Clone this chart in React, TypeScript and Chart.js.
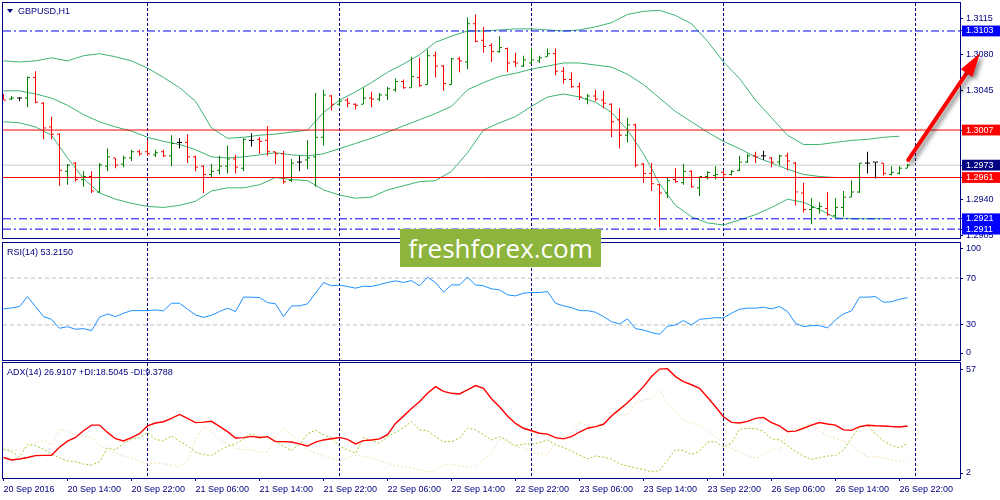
import React, { useEffect, useRef } from "react";
import { Chart, registerables } from "chart.js";

Chart.register(...registerables);

// ---------------- data ----------------
const timeLabels = [
  "20 Sep 2016", "20 Sep 14:00", "20 Sep 22:00", "21 Sep 06:00", "21 Sep 14:00",
  "21 Sep 22:00", "22 Sep 06:00", "22 Sep 14:00", "22 Sep 22:00", "23 Sep 06:00",
  "23 Sep 14:00", "23 Sep 22:00", "26 Sep 06:00", "26 Sep 14:00", "26 Sep 22:00",
];

const openPrices = [
  1.3041, 1.3037, 1.3038, 1.3038, 1.3058, 1.3033, 1.3010, 1.3003, 1.2967, 1.2975,
  1.2959, 1.2962, 1.2947, 1.2972, 1.2980, 1.2974, 1.2980, 1.2986, 1.2986, 1.2983,
  1.2986, 1.2982, 1.2995, 1.2995, 1.2981, 1.2972, 1.2964, 1.2968, 1.2972, 1.2979,
  1.2970, 1.2997, 1.2998, 1.2997, 1.2986, 1.2984, 1.2958, 1.2976, 1.2978, 1.2981,
  1.3000, 1.3040, 1.3032, 1.3036, 1.3032, 1.3032, 1.3038, 1.3037, 1.3041, 1.3046,
  1.3054, 1.3048, 1.3058, 1.3051, 1.3079, 1.3069, 1.3051, 1.3076, 1.3073, 1.3110,
  1.3094, 1.3089, 1.3083, 1.3086, 1.3073, 1.3069, 1.3072, 1.3074, 1.3078, 1.3081,
  1.3064, 1.3056, 1.3049, 1.3037, 1.3040, 1.3036, 1.3032, 1.3017, 1.3002, 1.3012,
  1.2974, 1.2965, 1.2954, 1.2946, 1.2959, 1.2956, 1.2967, 1.2951, 1.2962, 1.2963,
  1.2966, 1.2964, 1.2968, 1.2976, 1.2982, 1.2982, 1.2980, 1.2976, 1.2982, 1.2975,
  1.2946, 1.2930, 1.2931, 1.2931, 1.2924, 1.2932, 1.2942, 1.2947, 1.2975, 1.2976,
  1.2975, 1.2964, 1.2965, 1.2970,
];
const highPrices = [
  1.3042, 1.3040, 1.3039, 1.3059, 1.3064, 1.3034, 1.3020, 1.3004, 1.2974, 1.2976,
  1.2967, 1.2967, 1.2975, 1.2989, 1.2980, 1.2982, 1.2988, 1.2988, 1.2997, 1.2988,
  1.2988, 1.3002, 1.2999, 1.3003, 1.2982, 1.2973, 1.2974, 1.2982, 1.2992, 1.2983,
  1.2999, 1.3004, 1.3000, 1.3011, 1.2986, 1.2987, 1.2979, 1.2982, 1.2997, 1.3043,
  1.3046, 1.3041, 1.3037, 1.3038, 1.3033, 1.3048, 1.3044, 1.3043, 1.3049, 1.3057,
  1.3056, 1.3078, 1.3077, 1.3085, 1.3083, 1.3070, 1.3077, 1.3078, 1.3116, 1.3119,
  1.3107, 1.3091, 1.3098, 1.3087, 1.3082, 1.3079, 1.3087, 1.3079, 1.3086, 1.3086,
  1.3068, 1.3063, 1.3053, 1.3042, 1.3046, 1.3045, 1.3033, 1.3028, 1.3019, 1.3013,
  1.2975, 1.2975, 1.2955, 1.2961, 1.2970, 1.2974, 1.2968, 1.2962, 1.2967, 1.2972,
  1.2968, 1.2968, 1.2982, 1.2984, 1.2986, 1.2987, 1.2981, 1.2983, 1.2985, 1.2976,
  1.2956, 1.2941, 1.2937, 1.2947, 1.2941, 1.2948, 1.2958, 1.2975, 1.2986, 1.2976,
  1.2975, 1.2972, 1.2972, 1.2974,
];
const lowPrices = [
  1.3036, 1.3036, 1.3035, 1.3029, 1.3033, 1.2998, 1.2998, 1.2953, 1.2954, 1.2957,
  1.2952, 1.2946, 1.2946, 1.2967, 1.2970, 1.2971, 1.2977, 1.2982, 1.2982, 1.2981,
  1.2981, 1.2972, 1.2989, 1.2975, 1.2967, 1.2946, 1.2961, 1.2964, 1.2965, 1.2965,
  1.2967, 1.2991, 1.2984, 1.2982, 1.2974, 1.2955, 1.2957, 1.2967, 1.2969, 1.2952,
  1.2992, 1.3026, 1.3030, 1.3029, 1.3027, 1.3032, 1.3029, 1.3035, 1.3036, 1.3044,
  1.3047, 1.3048, 1.3049, 1.3051, 1.3058, 1.3045, 1.3051, 1.3063, 1.3066, 1.3092,
  1.3082, 1.3073, 1.3082, 1.3063, 1.3068, 1.3068, 1.3071, 1.3072, 1.3078, 1.3060,
  1.3052, 1.3048, 1.3036, 1.3032, 1.3035, 1.3028, 1.3000, 1.2989, 1.2995, 1.2971,
  1.2956, 1.2948, 1.2913, 1.2941, 1.2956, 1.2954, 1.2951, 1.2943, 1.2959, 1.2959,
  1.2961, 1.2963, 1.2967, 1.2975, 1.2975, 1.2978, 1.2971, 1.2973, 1.2968, 1.2934,
  1.2927, 1.2916, 1.2926, 1.2924, 1.2922, 1.2923, 1.2942, 1.2946, 1.2965, 1.2960,
  1.2963, 1.2963, 1.2964, 1.2970,
];
const closePrices = [
  1.3036, 1.3038, 1.3038, 1.3058, 1.3034, 1.3009, 1.3003, 1.2968, 1.2973, 1.2959,
  1.2962, 1.2948, 1.2973, 1.2981, 1.2973, 1.2980, 1.2986, 1.2984, 1.2984, 1.2985,
  1.2982, 1.2994, 1.2995, 1.2981, 1.2971, 1.2964, 1.2967, 1.2972, 1.2979, 1.2971,
  1.2998, 1.2997, 1.2996, 1.2986, 1.2984, 1.2957, 1.2975, 1.2976, 1.2980, 1.3000,
  1.3041, 1.3032, 1.3035, 1.3033, 1.3031, 1.3038, 1.3037, 1.3041, 1.3047, 1.3054,
  1.3048, 1.3059, 1.3050, 1.3079, 1.3069, 1.3052, 1.3076, 1.3074, 1.3110, 1.3093,
  1.3088, 1.3083, 1.3087, 1.3072, 1.3072, 1.3075, 1.3075, 1.3077, 1.3081, 1.3064,
  1.3056, 1.3049, 1.3039, 1.3040, 1.3037, 1.3033, 1.3015, 1.3002, 1.3012, 1.2973,
  1.2965, 1.2955, 1.2946, 1.2958, 1.2957, 1.2967, 1.2952, 1.2962, 1.2966, 1.2964,
  1.2964, 1.2967, 1.2976, 1.2982, 1.2981, 1.2982, 1.2976, 1.2982, 1.2977, 1.2947,
  1.2930, 1.2932, 1.2933, 1.2925, 1.2932, 1.2942, 1.2947, 1.2975, 1.2975, 1.2976,
  1.2965, 1.2966, 1.2970, 1.2973,
];

// Bollinger bands, read every second bar
const bbUpper = [
  1.3074, 1.3073, 1.3074, 1.3077, 1.3074, 1.3079, 1.3081, 1.3078, 1.3074, 1.3067,
  1.3058, 1.3048, 1.3035, 1.3009, 1.2999, 1.3000, 1.3002, 1.3003, 1.3005, 1.3007,
  1.3024, 1.3036, 1.3044, 1.3053, 1.3063, 1.3071, 1.3080, 1.3092, 1.3098, 1.3103,
  1.3103, 1.3104, 1.3105, 1.3105, 1.3104, 1.3103, 1.3104, 1.3107, 1.3111, 1.3119,
  1.3122, 1.3123, 1.3118, 1.3110, 1.3093, 1.3073, 1.3057, 1.3036, 1.3019, 1.3002,
  1.2993, 1.2993, 1.2995, 1.2997, 1.2998, 1.3000, 1.3001,
];
const bbMiddle = [
  1.3045, 1.3045, 1.3042, 1.3038, 1.3031, 1.3022, 1.3015, 1.3010, 1.3006, 1.3000,
  1.2996, 1.2993, 1.2988, 1.2981, 1.2980, 1.2981, 1.2983, 1.2985, 1.2983, 1.2982,
  1.2984, 1.2989, 1.2994, 1.2999, 1.3005, 1.3011, 1.3017, 1.3023, 1.3030, 1.3046,
  1.3053, 1.3059, 1.3062, 1.3066, 1.3069, 1.3072, 1.3072, 1.3070, 1.3068, 1.3061,
  1.3051, 1.3038, 1.3025, 1.3015, 1.3005, 1.2996, 1.2989, 1.2981, 1.2975, 1.2969,
  1.2964, 1.2962, 1.2961, 1.2961, 1.2961, 1.2961, 1.2961,
];
const bbLower = [
  1.3015, 1.3014, 1.3010, 1.3002, 1.2980, 1.2960, 1.2946, 1.2940, 1.2936, 1.2933,
  1.2932, 1.2934, 1.2938, 1.2948, 1.2951, 1.2951, 1.2954, 1.2961, 1.2959, 1.2958,
  1.2949, 1.2944, 1.2941, 1.2942, 1.2949, 1.2953, 1.2957, 1.2958, 1.2967, 1.2985,
  1.3007, 1.3014, 1.3020, 1.3030, 1.3039, 1.3042, 1.3039, 1.3034, 1.3024, 1.3007,
  1.2984, 1.2955, 1.2934, 1.2923, 1.2917, 1.2915, 1.2920, 1.2925, 1.2932, 1.2940,
  1.2937, 1.2930, 1.2922, 1.2921, 1.2921, 1.2921, null,
];

const rsiValues = [
  43.7, 44.5, 45.7, 54.2, 45.7, 37.1, 34.8, 27.1, 28.5, 26.3,
  26.8, 25.1, 36.5, 39.4, 37.1, 40.0, 42.2, 42.2, 42.2, 42.8,
  42.0, 48.5, 48.5, 43.4, 38.5, 36.5, 38.3, 41.4, 44.3, 41.4,
  53.7, 53.7, 53.4, 49.1, 48.0, 37.1, 46.3, 46.3, 48.0, 57.1,
  66.2, 63.4, 64.0, 62.8, 61.4, 63.1, 62.8, 64.5, 66.2, 67.7,
  66.2, 67.9, 63.4, 70.8, 66.2, 58.0, 64.2, 64.2, 70.8, 64.2,
  63.4, 60.8, 60.0, 55.7, 54.8, 57.1, 57.7, 57.7, 58.5, 48.5,
  46.3, 44.8, 42.2, 42.2, 40.8, 37.1, 32.8, 30.8, 35.1, 26.8,
  25.7, 23.4, 22.0, 28.8, 30.0, 33.7, 30.0, 34.8, 35.4, 36.2,
  36.0, 40.0, 43.4, 44.3, 44.3, 45.1, 43.7, 45.7, 41.4, 31.4,
  28.5, 29.4, 29.4, 27.4, 34.3, 39.4, 42.0, 53.7, 53.7, 54.2,
  49.4, 49.7, 52.0, 53.2,
];

const adxValues = [
  11.8, 10.6, 11.1, 11.8, 12.7, 12.8, 12.9, 16.7, 19.6, 21.4,
  24.6, 27.3, 27.3, 23.8, 20.8, 19.7, 21.3, 23.2, 26.9, 28.3,
  28.9, 30.5, 32.4, 30.5, 28.5, 28.7, 29.1, 26.7, 24.2, 21.1,
  21.3, 21.9, 21.4, 21.8, 19.4, 19.4, 19.2, 18.3, 17.3, 19.2,
  20.2, 20.8, 21.4, 20.5, 18.3, 19.9, 20.2, 20.7, 22.7, 28.1,
  31.6, 35.2, 38.5, 42.5, 45.7, 43.4, 42.5, 42.2, 44.2, 46.2,
  44.9, 39.9, 36.1, 31.7, 28.1, 25.8, 24.6, 23.4, 23.0, 21.3,
  20.7, 21.8, 24.0, 25.8, 26.6, 27.7, 31.7, 34.8, 38.0, 41.7,
  45.7, 50.5, 54.1, 54.3, 50.5, 48.1, 46.6, 44.9, 40.6, 36.1,
  31.3, 28.6, 28.3, 29.1, 30.5, 31.0, 28.5, 26.9, 24.2, 24.4,
  25.8, 27.3, 28.5, 27.8, 27.3, 25.0, 24.8, 26.6, 27.2, 27.0,
  26.9, 26.6, 26.4, 26.9,
];
const plusDI = [
  15.7, 14.6, 12.0, 18.1, 17.5, 15.7, 13.5, 11.6, 10.1, 9.8,
  8.7, 8.2, 9.7, 16.5, 15.5, 18.6, 20.5, 21.3, 23.7, 20.5,
  19.7, 22.1, 19.6, 17.3, 14.4, 13.2, 12.8, 15.1, 17.1, 18.3,
  20.7, 23.4, 21.0, 21.6, 19.7, 17.0, 15.1, 18.1, 23.0, 25.0,
  22.6, 21.3, 17.1, 15.5, 13.8, 21.4, 19.9, 18.6, 21.8, 23.8,
  26.1, 28.9, 25.1, 24.6, 21.8, 19.4, 19.4, 21.0, 25.9, 25.0,
  22.7, 20.2, 21.8, 20.0, 17.3, 18.3, 18.1, 18.9, 20.2, 17.8,
  16.7, 14.9, 12.9, 11.2, 12.5, 12.0, 11.1, 8.8, 7.7, 6.8,
  6.0, 5.0, 5.5, 10.6, 15.5, 15.1, 13.2, 14.8, 19.2, 19.4,
  16.7, 18.6, 25.4, 25.8, 25.6, 24.2, 20.7, 20.2, 17.5, 14.8,
  12.5, 10.9, 11.7, 12.5, 12.7, 15.4, 21.3, 26.2, 27.3, 23.0,
  19.7, 17.6, 16.5, 18.5,
];
const minusDI = [
  16.5, 15.4, 15.4, 16.8, 18.6, 20.2, 17.8, 25.3, 24.2, 22.8,
  22.0, 21.4, 17.5, 15.7, 14.0, 12.5, 11.6, 10.0, 8.8, 9.2,
  8.8, 8.2, 7.4, 10.1, 20.2, 26.6, 24.0, 20.3, 18.4, 16.3,
  15.4, 15.7, 14.4, 14.7, 22.1, 25.8, 22.6, 19.2, 15.9, 13.8,
  12.7, 11.4, 10.1, 11.8, 12.8, 12.4, 11.6, 10.4, 9.0, 7.9,
  7.4, 6.8, 5.8, 4.9, 5.8, 8.5, 8.7, 7.7, 7.2, 7.7,
  10.6, 13.8, 21.0, 18.9, 16.8, 16.3, 14.4, 13.8, 12.9, 20.0,
  21.8, 23.4, 28.8, 26.7, 25.8, 30.1, 33.6, 32.3, 32.1, 38.0,
  39.3, 40.1, 43.8, 38.0, 33.4, 29.7, 28.1, 27.3, 24.3, 21.8,
  18.6, 16.0, 14.3, 12.5, 11.4, 12.9, 16.0, 15.4, 22.9, 25.8,
  26.9, 28.1, 24.4, 22.4, 21.0, 19.7, 17.9, 14.3, 12.2, 12.2,
  11.7, 10.6, 10.1, 9.4,
];

const priceTicks = [1.2905, 1.3115, 1.308, 1.3045, 1.294];
const blueLevels = [1.3103, 1.2921, 1.2911];
const redLevels = [1.3007, 1.2961];
const bidLevels = [1.2973];
const rsiLevels = [70, 30];
const rsiAxisLabels = [100, 70, 30, 0];
const adxAxisLabels = [57, 2];
const arrowFrom = [113.1, 1.2978];
const arrowTo = [122.06, 1.30814];

// ---------------- layout / style ----------------
const FONT = "'Liberation Sans', Arial, sans-serif";
const NAVY = "#000080";
const UP = "#008000";
const DOWN = "#FF0000";
const DOJI = "#000000";
const BAND = "#3CB371";
const X_MIN = -0.0625;
const X_MAX = 119.5625;
const PRICE_MIN = 1.29024;
const PRICE_MAX = 1.31301;
const DAY_BARS = [18, 42, 66, 90, 114];
const BAND_STEP = 2;
const LABEL_STEP = 8;
const TICK_SHIFT = 0.1875;

const barColor = (i: number) =>
  closePrices[i] > openPrices[i] ? UP : closePrices[i] < openPrices[i] ? DOWN : DOJI;
const barColors = openPrices.map((_, i) => barColor(i));

const framePlugin = {
  id: "frame",
  afterDraw(chart: any) {
    const { ctx, chartArea: a } = chart;
    ctx.save();
    ctx.strokeStyle = NAVY;
    ctx.lineWidth = 1;
    ctx.setLineDash([]);
    ctx.strokeRect(a.left - 0.5, a.top - 0.5, a.right - a.left + 1, a.bottom - a.top + 1);
    ctx.restore();
  },
};

const arrowPlugin = {
  id: "arrow",
  afterDraw(chart: any) {
    const xs = chart.scales.x;
    const ys = chart.scales.y;
    const x1 = xs.getPixelForValue(arrowFrom[0]);
    const y1 = ys.getPixelForValue(arrowFrom[1]);
    const x2 = xs.getPixelForValue(arrowTo[0]);
    const y2 = ys.getPixelForValue(arrowTo[1]);
    const ang = Math.atan2(y2 - y1, x2 - x1);
    const headLen = 24;
    const headW = 7;
    const bx = x2 - headLen * Math.cos(ang);
    const by = y2 - headLen * Math.sin(ang);
    const ctx = chart.ctx;
    ctx.save();
    ctx.setLineDash([]);
    ctx.shadowColor = "rgba(0,0,0,0.45)";
    ctx.shadowBlur = 4;
    ctx.shadowOffsetX = 3;
    ctx.shadowOffsetY = 3;
    ctx.strokeStyle = "#FF0000";
    ctx.lineWidth = 4;
    ctx.lineCap = "round";
    ctx.beginPath();
    ctx.moveTo(x1, y1);
    ctx.lineTo(bx, by);
    ctx.stroke();
    ctx.fillStyle = "#FF0000";
    ctx.beginPath();
    ctx.moveTo(x2, y2);
    ctx.lineTo(bx + headW * Math.sin(ang), by - headW * Math.cos(ang));
    ctx.lineTo(bx - headW * Math.sin(ang), by + headW * Math.cos(ang));
    ctx.closePath();
    ctx.fill();
    ctx.restore();
  },
};

function gridAxis() {
  return {
    type: "linear",
    min: X_MIN,
    max: X_MAX,
    position: "bottom",
    offset: false,
    afterBuildTicks: (s: any) => {
      s.ticks = DAY_BARS.map((v) => ({ value: v }));
    },
    afterFit: (s: any) => {
      s.height = 0;
      s.paddingLeft = 0;
      s.paddingRight = 0;
    },
    ticks: { display: false },
    grid: { display: true, drawOnChartArea: true, drawTicks: false, color: NAVY, lineWidth: 1, offset: false },
    border: { display: false, dash: [3, 2] },
  };
}

function rightAxis(min: number, max: number, values: number[], labelFn: (v: number, i: number) => string, tickExtra: any = {}) {
  return {
    type: "linear",
    position: "right",
    min,
    max,
    afterBuildTicks: (s: any) => {
      s.ticks = values.map((v) => ({ value: v }));
    },
    afterFit: (s: any) => {
      s.width = 40;
      s.paddingTop = 0;
      s.paddingBottom = 0;
    },
    grid: { drawOnChartArea: false, drawTicks: true, tickLength: 3, color: NAVY, tickColor: NAVY },
    border: { display: true, color: NAVY, width: 1 },
    ticks: {
      autoSkip: false,
      padding: 3,
      color: NAVY,
      font: { family: FONT, size: 9, lineHeight: 1.2 },
      callback: (v: any, i: number) => labelFn(Number(v), i),
      ...tickExtra,
    },
  };
}

const baseOptions = (padding: any) => ({
  responsive: false,
  animation: false,
  events: [],
  devicePixelRatio: 1,
  layout: { padding },
  plugins: { legend: { display: false }, tooltip: { enabled: false } },
});

const hline = (v: number, color: string, dash: number[], order: number) => ({
  type: "line",
  data: [
    { x: X_MIN, y: v },
    { x: X_MAX, y: v },
  ],
  borderColor: color,
  backgroundColor: color,
  borderWidth: 1,
  borderDash: dash,
  pointRadius: 0,
  fill: false,
  order,
});

const bandSet = (arr: (number | null)[]) => ({
  type: "line",
  data: arr.map((v, k) => ({ x: k * BAND_STEP, y: v })),
  borderColor: BAND,
  borderWidth: 1,
  pointRadius: 0,
  spanGaps: false,
  fill: false,
  order: 6,
});

function levelTag(v: number) {
  if (blueLevels.includes(v)) return "#0000FF";
  if (redLevels.includes(v)) return "#FF0000";
  if (bidLevels.includes(v)) return "#000080";
  return null;
}

function mainConfig(): any {
  const tickValues = [...priceTicks, ...blueLevels.slice(0, 1), ...redLevels.slice(0, 1), ...bidLevels, ...redLevels.slice(1), ...blueLevels.slice(1)];
  return {
    type: "line",
    data: {
      datasets: [
        bandSet(bbUpper),
        bandSet(bbMiddle),
        bandSet(bbLower),
        ...bidLevels.map((v) => hline(v, "#C8C8C8", [], 5)),
        ...blueLevels.map((v) => hline(v, "#0000FF", [8, 3, 2, 3], 4)),
        ...redLevels.map((v) => hline(v, "#FF0000", [], 0)),
        {
          type: "bar",
          data: openPrices.map((_, i) => ({ x: i, y: [lowPrices[i], highPrices[i]] })),
          backgroundColor: barColors,
          borderColor: barColors,
          borderWidth: 0,
          barThickness: 1,
          inflateAmount: 0,
          order: 2,
        },
        {
          type: "line",
          showLine: false,
          data: openPrices.map((v, i) => ({ x: i - TICK_SHIFT, y: v })),
          borderColor: "rgba(0,0,0,0)",
          pointStyle: "line",
          pointRadius: 1,
          pointBorderWidth: 1,
          pointBorderColor: barColors,
          pointHoverRadius: 0,
          order: 1,
        },
        {
          type: "line",
          showLine: false,
          data: closePrices.map((v, i) => ({ x: i + TICK_SHIFT, y: v })),
          borderColor: "rgba(0,0,0,0)",
          pointStyle: "line",
          pointRadius: 1,
          pointBorderWidth: 1,
          pointBorderColor: barColors,
          pointHoverRadius: 0,
          order: 1,
        },
      ],
    },
    options: {
      ...baseOptions({ left: 3, top: 3, right: 0, bottom: 2 }),
      scales: {
        x: gridAxis(),
        y: rightAxis(PRICE_MIN, PRICE_MAX, tickValues, (v) => v.toFixed(4), {
          color: (c: any) => (c.tick && levelTag(c.tick.value) ? "#FFFFFF" : NAVY),
          showLabelBackdrop: (c: any) => !!(c.tick && levelTag(c.tick.value)),
          backdropColor: (c: any) => (c.tick && levelTag(c.tick.value)) || "rgba(0,0,0,0)",
          backdropPadding: { left: 4, right: 8, top: 0, bottom: 0 },
        }),
      },
    },
    plugins: [framePlugin, arrowPlugin],
  };
}

function insetTicks(labels: number[], min: number, max: number, heightPx: number, topInset: number, bottomInset: number) {
  const perPx = (max - min) / heightPx;
  return labels.map((v) => (v >= max ? v - topInset * perPx : v <= min ? v + bottomInset * perPx : v));
}

function rsiConfig(): any {
  return {
    type: "line",
    data: {
      datasets: [
        ...rsiLevels.map((v) => hline(v, "#C0C0C0", [4, 3], 3)),
        {
          type: "line",
          data: rsiValues.map((v, i) => ({ x: i, y: v })),
          borderColor: "#1E90FF",
          borderWidth: 1,
          pointRadius: 0,
          order: 1,
        },
      ],
    },
    options: {
      ...baseOptions({ left: 3, top: 3, right: 0, bottom: 1 }),
      scales: {
        x: gridAxis(),
        y: rightAxis(0, 100, insetTicks(rsiAxisLabels, 0, 100, 117, 6, 7), (_v, i) => String(rsiAxisLabels[i])),
      },
    },
    plugins: [framePlugin],
  };
}

function adxConfig(): any {
  const lbl = {
    type: "linear",
    min: X_MIN,
    max: X_MAX,
    position: "bottom",
    offset: false,
    afterBuildTicks: (s: any) => {
      s.ticks = timeLabels.map((_, k) => ({ value: k * LABEL_STEP }));
    },
    afterFit: (s: any) => {
      s.height = 22;
      s.paddingLeft = 0;
      s.paddingRight = 0;
    },
    ticks: {
      autoSkip: false,
      maxRotation: 0,
      minRotation: 0,
      align: "start",
      padding: 3,
      color: NAVY,
      font: { family: FONT, size: 9 },
      callback: (_v: any, i: number) => timeLabels[i],
    },
    grid: { drawOnChartArea: false, drawTicks: true, tickLength: 3, color: NAVY, tickColor: NAVY, offset: false },
    border: { display: true, color: NAVY },
  };
  return {
    type: "line",
    data: {
      datasets: [
        {
          type: "line",
          data: minusDI.map((v, i) => ({ x: i, y: v })),
          borderColor: "#F5DEB3",
          borderWidth: 1,
          borderDash: [2, 2],
          pointRadius: 0,
          order: 3,
        },
        {
          type: "line",
          data: plusDI.map((v, i) => ({ x: i, y: v })),
          borderColor: "#9ACD32",
          borderWidth: 1,
          borderDash: [2, 2],
          pointRadius: 0,
          order: 2,
        },
        {
          type: "line",
          data: adxValues.map((v, i) => ({ x: i, y: v })),
          borderColor: "#FF0000",
          borderWidth: 1.4,
          pointRadius: 0,
          order: 1,
        },
      ],
    },
    options: {
      ...baseOptions({ left: 3, top: 2, right: 0, bottom: 0 }),
      scales: {
        x: lbl,
        xg: gridAxis(),
        y: rightAxis(2, 57, insetTicks(adxAxisLabels, 2, 57, 115, 7, 5), (_v, i) => String(adxAxisLabels[i])),
      },
    },
    plugins: [framePlugin],
  };
}

const textStyle: any = {
  position: "absolute",
  fontFamily: FONT,
  fontSize: 9,
  lineHeight: "12px",
  color: NAVY,
  whiteSpace: "nowrap",
};

export default function App() {
  const mainRef = useRef<HTMLCanvasElement>(null);
  const rsiRef = useRef<HTMLCanvasElement>(null);
  const adxRef = useRef<HTMLCanvasElement>(null);

  useEffect(() => {
    const charts = [
      new Chart(mainRef.current as any, mainConfig()),
      new Chart(rsiRef.current as any, rsiConfig()),
      new Chart(adxRef.current as any, adxConfig()),
    ];
    return () => charts.forEach((c) => c.destroy());
  }, []);

  return (
    <div style={{ position: "absolute", left: 0, top: 0, width: 1000, height: 500, background: "#fff", overflow: "hidden" }}>
      <canvas ref={mainRef} width={1000} height={240} style={{ position: "absolute", left: 0, top: 0, width: 1000, height: 240 }} />
      <canvas ref={rsiRef} width={1000} height={121} style={{ position: "absolute", left: 0, top: 240, width: 1000, height: 121 }} />
      <canvas ref={adxRef} width={1000} height={139} style={{ position: "absolute", left: 0, top: 361, width: 1000, height: 139 }} />
      <div
        style={{
          position: "absolute",
          left: 7,
          top: 9,
          width: 0,
          height: 0,
          borderLeft: "3px solid transparent",
          borderRight: "3px solid transparent",
          borderTop: "4px solid " + NAVY,
        }}
      />
      <div style={{ ...textStyle, left: 18, top: 5 }}>GBPUSD,H1</div>
      <div style={{ ...textStyle, left: 7, top: 246 }}>RSI(14) 53.2150</div>
      <div style={{ ...textStyle, left: 7, top: 366 }}>ADX(14) 26.9107 +DI:18.5045 -DI:9.3788</div>
      <div
        style={{
          position: "absolute",
          left: 400,
          top: 229,
          width: 201,
          height: 38,
          background: "#8DB43D",
          color: "#FFFFFF",
          fontFamily: "'Open Sans', sans-serif",
          fontSize: 26,
          lineHeight: "38px",
          textAlign: "center",
          whiteSpace: "nowrap",
        }}
      >
        freshforex.com
      </div>
    </div>
  );
}
